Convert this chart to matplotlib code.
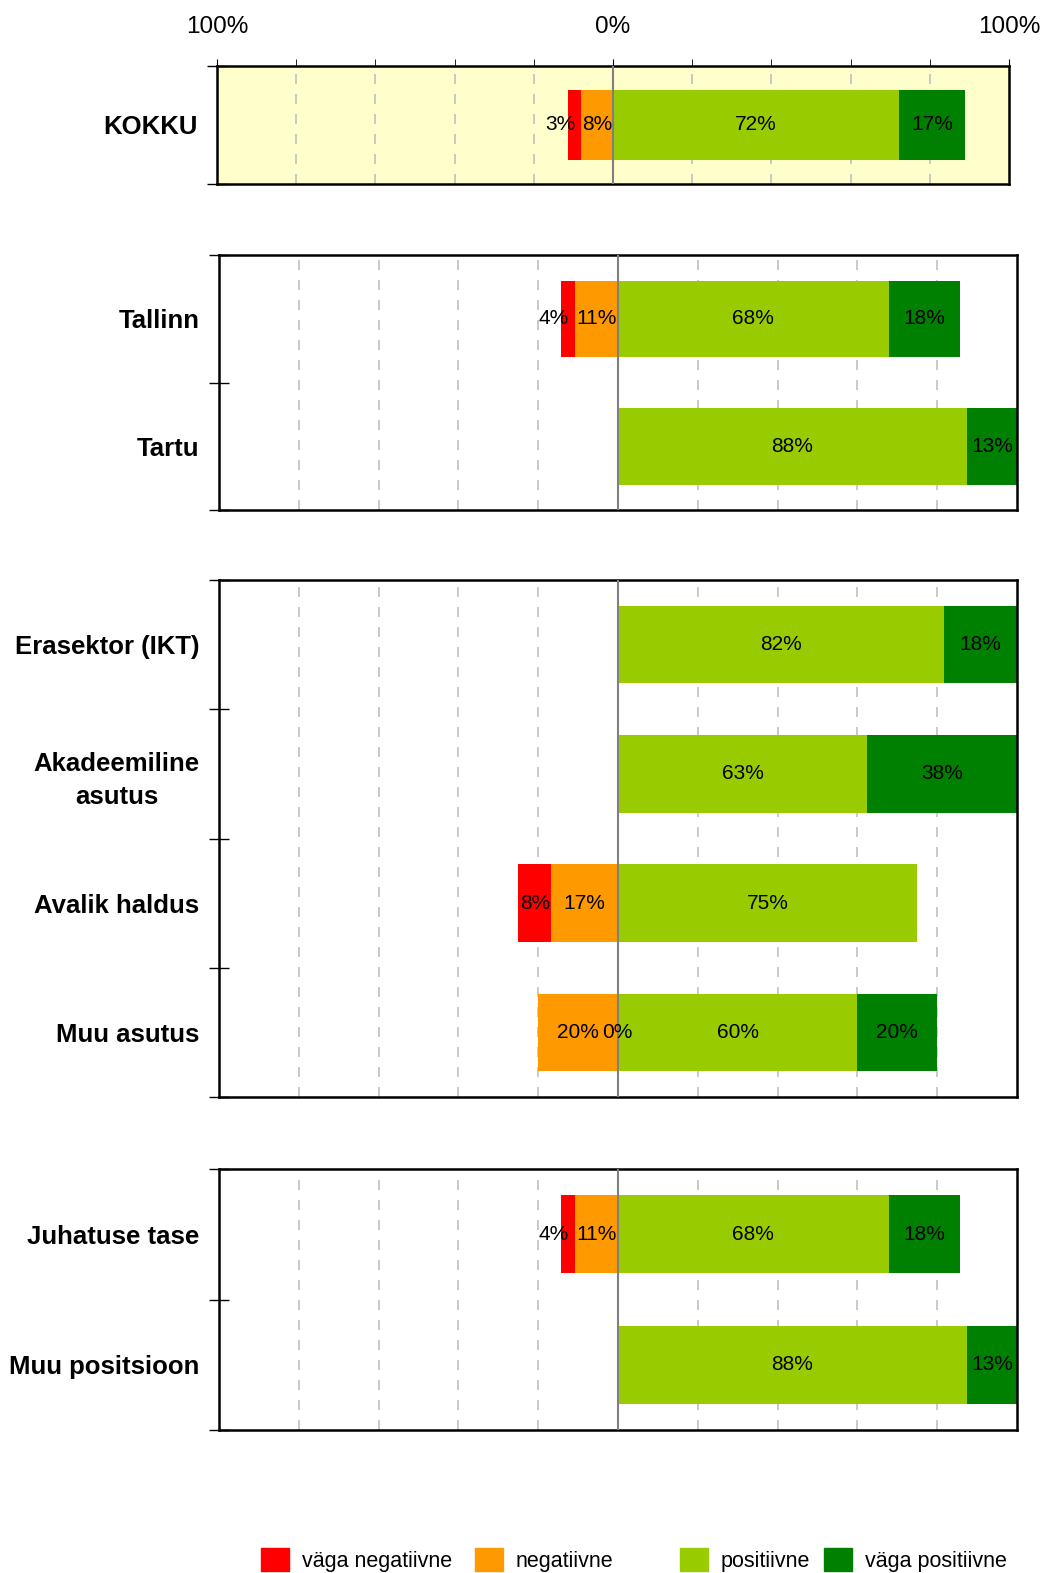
import numpy as np
import matplotlib
matplotlib.use("Agg")
import matplotlib.pyplot as plt
from matplotlib.patches import Patch

plt.rcParams['font.family'] = ['Liberation Sans', 'DejaVu Sans']

# data (shares in %), nan = no answer in that class
series = ['väga negatiivne', 'negatiivne', 'positiivne', 'väga positiivne']
colors = ['#ff0000', '#ff9900', '#99cc00', '#008000']

groups = [
    ['KOKKU'],
    ['Tallinn', 'Tartu'],
    ['Erasektor (IKT)', 'Akadeemiline\nasutus', 'Avalik haldus', 'Muu asutus'],
    ['Juhatuse tase', 'Muu positsioon'],
]
very_neg = [[3.3], [3.57, np.nan], [np.nan, np.nan, 8.33, 0.0], [3.57, np.nan]]
neg = [[8.1], [10.71, np.nan], [np.nan, np.nan, 16.67, 20.0], [10.71, np.nan]]
pos = [[72.2], [67.86, 87.5], [81.8, 62.5, 75.0, 60.0], [67.86, 87.5]]
very_pos = [[16.7], [17.86, 12.5], [18.2, 37.5, np.nan, 20.0], [17.86, 12.5]]

# axes boxes in pixels (left, top, right, bottom)
W, H = 1044, 1573
boxes = [(217, 66, 1009, 184), (219, 255, 1017, 510),
         (219, 580, 1017, 1097), (219, 1169, 1017, 1430)]

fig = plt.figure(figsize=(W / 100, H / 100), dpi=100)


def lab(v):
    return '%d%%' % int(np.floor(v + 0.5))


for gi, cats in enumerate(groups):
    l, t, r, b = boxes[gi]
    ax = fig.add_axes([l / W, 1 - b / H, (r - l) / W, (b - t) / H])
    n = len(cats)
    y = np.arange(n)
    ax.set_xlim(-100, 100)
    ax.set_ylim(n - 0.5, -0.5)
    if gi == 0:
        ax.set_facecolor('#ffffcc')

    for xg in [-80, -60, -40, -20, 20, 40, 60, 80]:
        ax.axvline(xg, color='#c0c0c0', lw=1.2, ls=(0, (6, 6)), zorder=0)
    ax.axvline(0, color='#808080', lw=1.5, zorder=3)

    vn = np.array(very_neg[gi], dtype=float)
    ng = np.array(neg[gi], dtype=float)
    ps = np.array(pos[gi], dtype=float)
    vp = np.array(very_pos[gi], dtype=float)
    vn0 = np.nan_to_num(vn)
    ng0 = np.nan_to_num(ng)
    ps0 = np.nan_to_num(ps)
    vp0 = np.nan_to_num(vp)
    h = 0.6
    ax.barh(y, -ng0, left=0, height=h, color=colors[1], zorder=2)
    ax.barh(y, -vn0, left=-ng0, height=h, color=colors[0], zorder=2)
    ax.barh(y, ps0, left=0, height=h, color=colors[2], zorder=2)
    ax.barh(y, vp0, left=ps0, height=h, color=colors[3], zorder=2)

    fs = 15
    for i in range(n):
        if not np.isnan(ng[i]):
            ax.text(-ng[i] / 2, i, lab(ng[i]), ha='center', va='center', fontsize=fs, zorder=4)
        if not np.isnan(vn[i]):
            if vn[i] == 0:
                ax.text(-ng0[i] / 2 + 6, i, lab(vn[i]), ha='left', va='center', fontsize=fs, zorder=4)
            elif vn[i] < 5:
                ax.text(-ng0[i] - vn[i] + 2, i, lab(vn[i]), ha='right', va='center', fontsize=fs, zorder=4)
            else:
                ax.text(-ng0[i] - vn[i] / 2, i, lab(vn[i]), ha='center', va='center', fontsize=fs, zorder=4)
        if not np.isnan(ps[i]):
            ax.text(ps[i] / 2, i, lab(ps[i]), ha='center', va='center', fontsize=fs, zorder=4)
        if not np.isnan(vp[i]):
            ax.text(ps0[i] + vp[i] / 2, i, lab(vp[i]), ha='center', va='center', fontsize=fs, zorder=4)

    ax.set_yticks(np.arange(n + 1) - 0.5, minor=False)
    ax.set_yticklabels([])
    ax.set_yticks(y, minor=True)
    ax.set_yticklabels(cats, minor=True, fontsize=18.5, fontweight='bold',
                       ha='right', multialignment='center', linespacing=1.45)
    ax.tick_params(axis='y', which='major', direction='inout', length=14, width=1)
    ax.tick_params(axis='y', which='minor', length=0, pad=14)

    if gi == 0:
        ax.xaxis.tick_top()
        ax.set_xticks([-100, 0, 100])
        ax.set_xticklabels(['100%', '0%', '100%'], fontsize=17.5)
        ax.set_xticks(np.arange(-80, 81, 20), minor=True)
        ax.tick_params(axis='x', which='both', direction='out', length=5, pad=15)
    else:
        ax.set_xticks([])

    for s in ax.spines.values():
        s.set_linewidth(1.8)
        s.set_color('black')

# legend: one entry per slot, as in the reference layout
leg_x = [259, 473, 678, 822]
for c, s, lx in zip(colors, series, leg_x):
    lg = fig.legend(handles=[Patch(color=c, label=s)], loc='center left',
                    bbox_to_anchor=(lx / W - 0.017, 1 - 1560 / H), frameon=False,
                    fontsize=15.5, handlelength=1.3, handleheight=1.3,
                    handletextpad=0.6)

fig.savefig('out.png', dpi=100)
